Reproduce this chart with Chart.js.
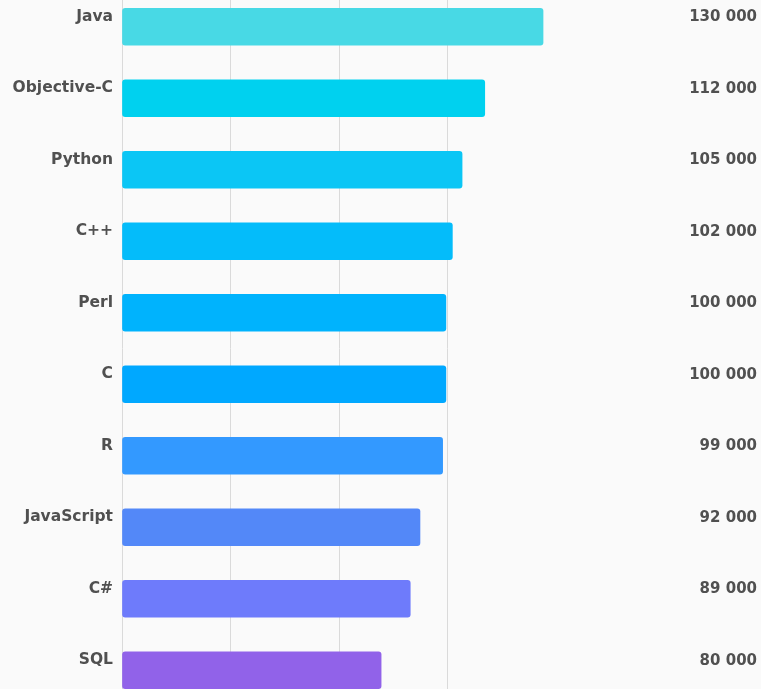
<!DOCTYPE html>
<html>
<head>
<meta charset="utf-8">
<script src="https://cdn.jsdelivr.net/npm/chart.js@4/dist/chart.umd.min.js"></script>
<style>
  html, body { margin: 0; padding: 0; background: #fafafa; overflow: hidden; width: 761px; height: 689px; }
  #wrap { position: absolute; left: 0; top: -9px; width: 761px; height: 715px; }
</style>
</head>
<body>
<div id="wrap"><canvas id="c"></canvas></div>
<script>
const categories = ["Java", "Objective-C", "Python", "C++", "Perl", "C", "R", "JavaScript", "C#", "SQL"];
const values = [130000, 112000, 105000, 102000, 100000, 100000, 99000, 92000, 89000, 80000];
const valueLabels = ["130 000", "112 000", "105 000", "102 000", "100 000", "100 000", "99 000", "92 000", "89 000", "80 000"];
const barColors = ["#48d9e5", "#00d1ef", "#0bc6f5", "#04bcfa", "#00b3fd", "#00a8ff", "#3399ff", "#5388f8", "#6e7bfb", "#9162e9"];
const xMax = 134000;
const gridStep = 33660;
const gridCount = 3;

const FONT = "'DejaVu Sans', sans-serif";
const TEXT = "#505050";

const valuePlugin = {
  id: 'valueLabels',
  afterDatasetsDraw(chart) {
    const ctx = chart.ctx;
    const meta = chart.getDatasetMeta(0);
    ctx.save();
    ctx.font = "700 15px " + FONT;
    ctx.fillStyle = TEXT;
    ctx.textAlign = "right";
    ctx.textBaseline = "middle";
    meta.data.forEach((bar, i) => {
      ctx.fillText(valueLabels[i], 757, bar.y - 9.5);
    });
    ctx.restore();
  }
};

new Chart(document.getElementById('c'), {
  type: 'bar',
  data: {
    labels: categories,
    datasets: [{
      data: values,
      backgroundColor: barColors,
      borderWidth: 0,
      borderRadius: 3,
      borderSkipped: false,
      barThickness: 37
    }]
  },
  options: {
    indexAxis: 'y',
    responsive: true,
    maintainAspectRatio: false,
    animation: false,
    layout: { padding: { left: 0, right: 205, top: 0, bottom: 0 } },
    plugins: { legend: { display: false }, tooltip: { enabled: false } },
    scales: {
      x: {
        min: 0,
        max: xMax,
        grid: { color: "#dadada", lineWidth: 1, drawTicks: false },
        border: { display: false },
        ticks: { display: false, stepSize: gridStep, includeBounds: false },
        afterBuildTicks(scale) {
          scale.ticks = scale.ticks.filter(t => t.value <= gridStep * gridCount + 1);
        },
        afterFit(scale) { scale.height = 0; scale.paddingLeft = 0; scale.paddingRight = 0; }
      },
      y: {
        grid: { display: false, drawTicks: false },
        border: { display: false },
        ticks: {
          color: TEXT,
          font: { family: FONT, size: 15.5, weight: '700' },
          padding: 9,
          labelOffset: -10
        },
        afterFit(scale) { scale.width = 122; scale.paddingTop = 0; scale.paddingBottom = 0; }
      }
    }
  },
  plugins: [valuePlugin]
});
</script>
</body>
</html>
